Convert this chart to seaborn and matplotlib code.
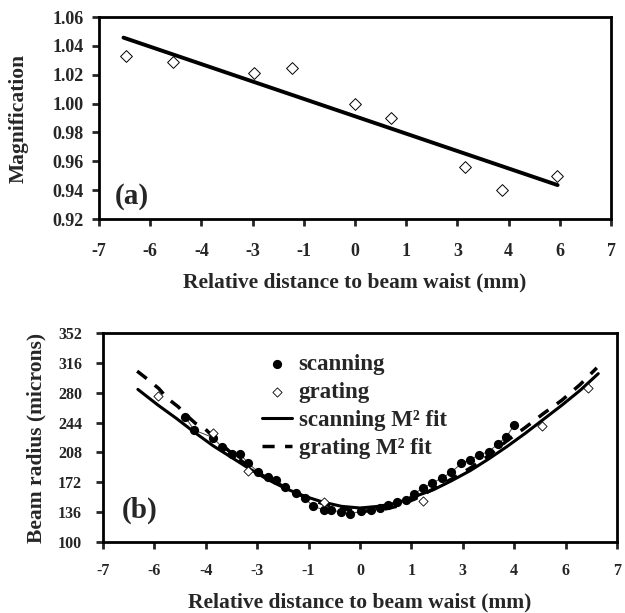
import numpy as np
import pandas as pd
import matplotlib
matplotlib.use("Agg")
import matplotlib.pyplot as plt
import seaborn as sns

# ---------------- data ----------------
# panel (a)
mag_x = [-6.26, -4.99, -2.76, -1.72, 0.0, 0.99, 3.02, 4.01, 5.52]
mag_y = [1.033, 1.029, 1.021, 1.0245, 1.000, 0.990, 0.956, 0.940, 0.950]
magfit_x = [-6.33, 5.54]
magfit_y = [1.0457, 0.9435]
mag_yticks = [0.92, 0.94, 0.96, 0.98, 1.00, 1.02, 1.04, 1.06]

# panel (b)
scan_x = [-4.76, -4.52, -4.01, -3.77, -3.49, -3.27, -3.04, -2.79, -2.50, -2.28,
          -2.05, -1.74, -1.50, -1.28, -0.99, -0.78, -0.53, -0.26, 0.03, 0.30,
          0.54, 0.76, 1.00, 1.24, 1.46, 1.72, 1.97, 2.22, 2.49, 2.76,
          2.99, 3.24, 3.51, 3.75, 3.99, 4.20]
scan_y = [251, 235, 226, 215, 206, 206, 195, 185, 178, 175,
          166, 159, 153, 143, 139, 139, 136, 134, 137, 139,
          141, 145, 148, 151, 158, 165, 171, 177, 184, 195,
          199, 205, 209, 218, 227, 241]
grat_x = [-5.50, -4.00, -3.04, -0.99, 1.72, 4.95, 6.22]
grat_y = [276, 231, 186, 148, 150, 240, 286]
scanfit_x = [-6.05, -5.5, -5.0, -4.5, -4.0, -3.5, -3.0, -2.5, -2.0, -1.5, -1.0, -0.5, 0.0,
             0.5, 1.0, 1.5, 2.0, 2.5, 3.0, 3.5, 4.0, 4.5, 5.0, 5.5, 6.0, 6.49]
scanfit_y = [284, 265, 249, 232, 216, 202, 188, 175, 164, 155, 148, 143, 141,
             143, 147, 155, 163, 174, 186, 200, 215, 231, 248, 265, 283, 303]
gratfit_x = [-6.07, -5.75, -5.48, -5.24, -4.95, -4.73, -4.48, -4.21, -4.0, -3.5, -3.0, -2.5,
             -2.0, -1.5, -1.0, -0.5, 0.0, 0.5, 1.0, 1.5, 2.0, 2.5, 3.0, 3.5, 4.0, 4.5,
             5.0, 5.5, 6.0, 6.45]
gratfit_y = [306, 295, 285, 273, 263, 253, 243, 236, 227, 207, 190, 176,
             165, 154, 146, 140, 137, 138, 143, 152, 164, 176, 189, 204, 222, 238,
             255, 271, 290, 310]
beam_yticks = [100, 136, 172, 208, 244, 280, 316, 352]

x_ticklabels = ['-7', '-6', '-4', '-3', '-1', '0', '1', '3', '4', '6', '7']

# ---------------- style ----------------
sns.set_style("ticks")
plt.rcParams['font.family'] = ['Liberation Serif', 'DejaVu Serif']
plt.rcParams['font.weight'] = 'bold'
plt.rcParams['axes.labelweight'] = 'bold'

fig = plt.figure(figsize=(6.25, 6.13), dpi=100)
ax1 = fig.add_axes([99/625, 1-219/613, (611-99)/625, (219-17)/613])
ax2 = fig.add_axes([103/625, 1-542/613, (617-103)/625, (542-333)/613])

xticks = np.linspace(-7, 7, 11)

def style_axes(ax, xpad, ypad, tfs):
    for s in ax.spines.values():
        s.set_visible(True)
        s.set_linewidth(2.0)
        s.set_color('black')
    ax.set_xlim(-7, 7)
    ax.set_xticks(xticks)
    ax.set_xticklabels(x_ticklabels)
    ax.tick_params(axis='x', direction='out', length=5, width=2, pad=xpad, labelsize=tfs)
    ax.tick_params(axis='y', direction='out', length=5, width=2, pad=ypad, labelsize=tfs)
    for lab in ax.get_xticklabels() + ax.get_yticklabels():
        lab.set_fontweight('bold')
    ax.grid(False)
    ax.set_facecolor('white')

# ---------------- panel (a) ----------------
dfa = pd.DataFrame({'x': mag_x, 'y': mag_y})
dffa = pd.DataFrame({'x': magfit_x, 'y': magfit_y})
sns.lineplot(data=dffa, x='x', y='y', ax=ax1, color='black', lw=2.8, estimator=None, legend=False)
sns.scatterplot(data=dfa, x='x', y='y', ax=ax1, marker='D', s=36, facecolor='white',
                edgecolor='black', linewidth=0.7, legend=False, zorder=3)
ax1.set_ylim(0.92, 1.06)
ax1.set_yticks(mag_yticks)
ax1.set_yticklabels([f"{v:.2f}" for v in mag_yticks])
style_axes(ax1, 12, 6, 13)
ax1.set_xlabel('Relative distance to beam waist (mm)', fontsize=15.5, fontweight='bold')
ax1.set_ylabel('Magnification', fontsize=15.5, fontweight='bold')
ax1.xaxis.label.set_va('center')
ax1.yaxis.label.set_va('center')
ax1.xaxis.set_label_coords(0.5, (219-282)/202)
ax1.yaxis.set_label_coords((19-99)/512, 0.5)
ax1.text(0.03, 0.11, '(a)', transform=ax1.transAxes, fontsize=21, fontweight='bold',
         ha='left', va='center')

# ---------------- panel (b) ----------------
dfs = pd.DataFrame({'x': scan_x, 'y': scan_y})
dfg = pd.DataFrame({'x': grat_x, 'y': grat_y})
dfsf = pd.DataFrame({'x': scanfit_x, 'y': scanfit_y})
dfgf = pd.DataFrame({'x': gratfit_x, 'y': gratfit_y})

sns.lineplot(data=dfs, x='x', y='y', ax=ax2, color='#444444', lw=0.7, estimator=None,
             legend=False, zorder=2)
sns.lineplot(data=dfsf, x='x', y='y', ax=ax2, color='black', lw=2.2, estimator=None,
             label='scanning M² fit', zorder=3)
sns.lineplot(data=dfgf, x='x', y='y', ax=ax2, color='black', lw=2.5, estimator=None,
             label='grating M² fit', zorder=3, dashes=False)
ax2.lines[-1].set_dashes([3.5, 3.0])
sns.scatterplot(data=dfs, x='x', y='y', ax=ax2, marker='o', s=44, color='black',
                edgecolor='black', linewidth=0, label='scanning', zorder=4)
sns.scatterplot(data=dfg, x='x', y='y', ax=ax2, marker='D', s=22, facecolor='white',
                edgecolor='black', linewidth=0.6, label='grating', zorder=5)
ax2.set_ylim(100, 352)
ax2.set_yticks(beam_yticks)
ax2.set_yticklabels([str(v) for v in beam_yticks])
style_axes(ax2, 10, 10, 11.5)
ax2.set_xlabel('Relative distance to beam waist (mm)', fontsize=15.5, fontweight='bold')
ax2.set_ylabel('Beam radius (microns)', fontsize=15.5, fontweight='bold')
ax2.xaxis.label.set_va('center')
ax2.yaxis.label.set_va('center')
ax2.xaxis.set_label_coords(0.5, (542-602)/209)
ax2.yaxis.set_label_coords((36-103)/514, 0.5)
ax2.text(0.037, 0.153, '(b)', transform=ax2.transAxes, fontsize=21, fontweight='bold',
         ha='left', va='center')

h, l = ax2.get_legend_handles_labels()
order = ['scanning', 'grating', 'scanning M² fit', 'grating M² fit']
hm = dict(zip(l, h))
hs = [hm[k] for k in order]
leg = ax2.legend(hs, order, loc='upper left', bbox_to_anchor=((262-103)/514, 1-(354-333)/209),
                 frameon=False, handlelength=1.3, handletextpad=0.3,
                 labelspacing=0.3, borderaxespad=0, borderpad=0,
                 prop={'weight': 'bold', 'size': 16.5})
for t in leg.get_texts():
    t.set_fontweight('bold')

fig.savefig('out.png', dpi=100, facecolor='white')
